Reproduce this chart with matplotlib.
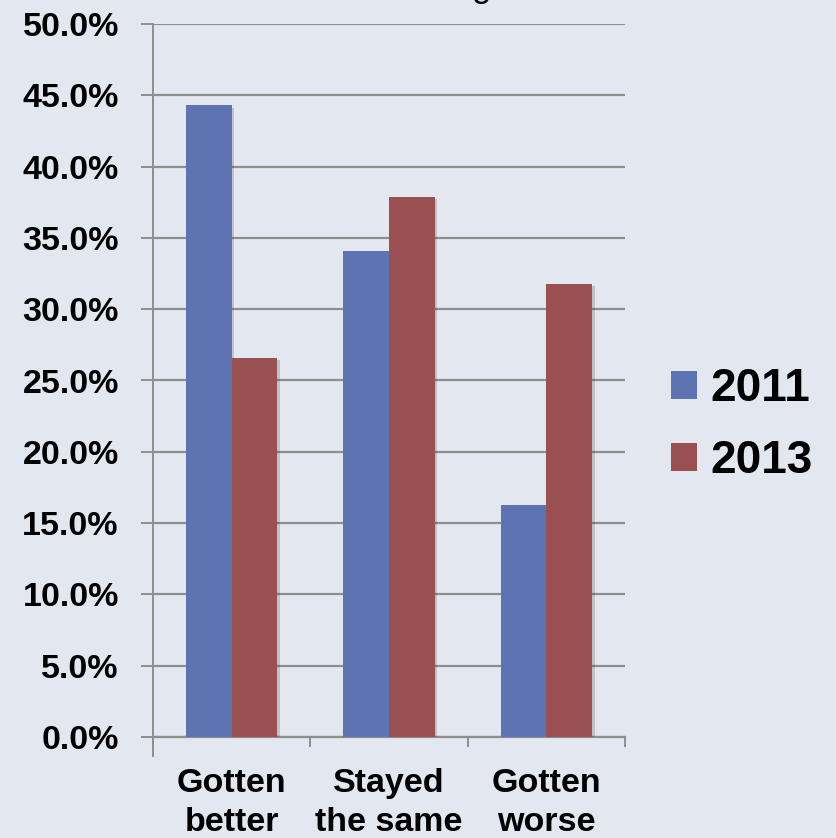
import matplotlib
matplotlib.use("Agg")
import matplotlib.pyplot as plt
from matplotlib.patches import Patch
import matplotlib.patheffects as pe
import numpy as np

categories = ["Gotten\nbetter", "Stayed\nthe same", "Gotten\nworse"]
series_names = ["2011", "2013"]
values_2011 = [0.443, 0.341, 0.163]
values_2013 = [0.266, 0.379, 0.318]
yticks = [0.0, 0.05, 0.10, 0.15, 0.20, 0.25, 0.30, 0.35, 0.40, 0.45, 0.50]

BG = "#E3E7EF"
BLUE = "#5E74B2"
RED = "#9A5050"
GRID = "#8E8E8E"
FONT = ["Liberation Sans", "DejaVu Sans"]

plt.rcParams["font.family"] = FONT

W, H = 836, 838
fig = plt.figure(figsize=(W / 100, H / 100), dpi=100, facecolor=BG)
ax = fig.add_axes([153 / W, 1 - 737 / H, (625 - 153) / W, (737 - 24) / H])
ax.set_facecolor(BG)

x = np.arange(len(categories))
bw = 0.29
shadow = [pe.SimplePatchShadow(offset=(2, -2), alpha=0.18), pe.Normal()]
b1 = ax.bar(x - bw / 2, values_2011, bw, color=BLUE, zorder=3)
b2 = ax.bar(x + bw / 2, values_2013, bw, color=RED, zorder=3)
for b in list(b1) + list(b2):
    b.set_path_effects(shadow)

ax.set_xlim(-0.5, 2.5)
ax.set_ylim(0, 0.5)
ax.set_yticks(yticks)
ax.set_yticklabels([f"{v*100:.1f}%" for v in yticks], fontsize=24.5, fontweight="bold")
ax.yaxis.grid(True, color=GRID, linewidth=1.6, zorder=0)
ax.set_axisbelow(True)
ax.tick_params(axis="y", length=8.6, width=1.4, color=GRID, pad=16, direction="out")

ax.set_xticks(x)
ax.set_xticklabels(categories, fontsize=24.5, fontweight="bold", linespacing=1.35)
ax.tick_params(axis="x", which="major", length=0, pad=22)
ax.set_xticks([-0.5, 0.5, 1.5, 2.5], minor=True)
ax.tick_params(axis="x", which="minor", length=7, width=1.4, color=GRID, direction="out")

for s in ["top", "right"]:
    ax.spines[s].set_visible(False)
ax.spines["left"].set_color(GRID)
ax.spines["left"].set_linewidth(1.4)
ax.spines["bottom"].set_color(GRID)
ax.spines["bottom"].set_linewidth(1.6)
ax.spines["left"].set_bounds(-0.0135, 0.5)

handles = [Patch(facecolor=BLUE), Patch(facecolor=RED)]
fig.legend(handles, series_names, loc="center left",
           bbox_to_anchor=(671 / W, 1 - 425 / H), frameon=False,
           prop={"family": FONT, "size": 33, "weight": "bold"},
           handlelength=0.56, handleheight=0.56, handletextpad=0.3,
           labelspacing=0.6, borderpad=0, borderaxespad=0)

# clipped title descender at the top edge
fig.text(481 / W, 1 + 3 / H, "g", ha="center", va="baseline", fontsize=25)

fig.savefig("out.png", dpi=100, facecolor=BG)
